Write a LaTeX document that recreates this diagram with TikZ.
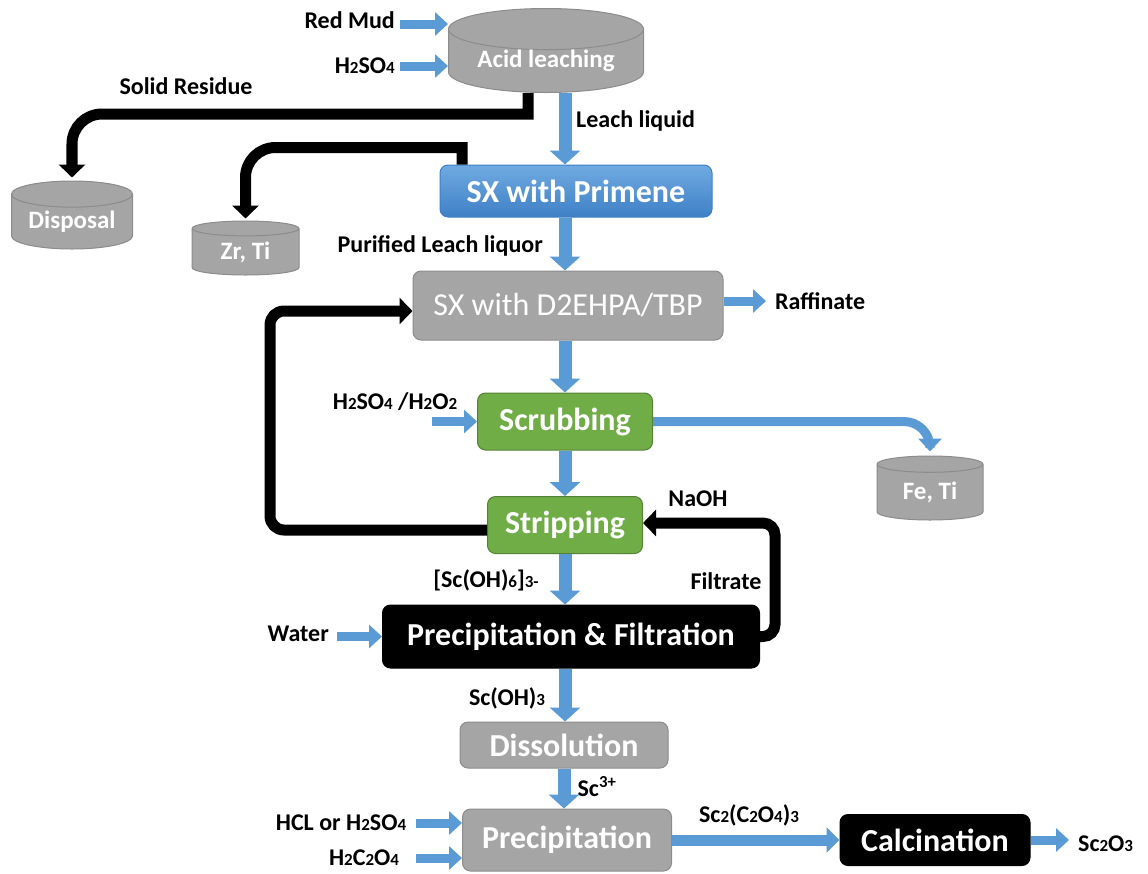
\documentclass[tikz,border=0pt]{standalone}
\usepackage{fontspec}
\setmainfont{Carlito}
\usetikzlibrary{arrows.meta, positioning, shapes.geometric}
\definecolor{flowBlue}{RGB}{91,155,213}
\definecolor{boxGray}{RGB}{165,165,165}
\definecolor{grayEdge}{RGB}{140,140,140}
\definecolor{leafGreen}{RGB}{112,173,71}
\definecolor{greenEdge}{RGB}{84,130,53}
\definecolor{primeTop}{RGB}{112,170,225}
\definecolor{primeBottom}{RGB}{62,128,198}
\newcommand{\sml}[1]{{\fontsize{17}{17}\selectfont #1}}

\begin{document}
\begin{tikzpicture}[x=1pt, y=-1pt,
  lbl/.style={font=\bfseries\fontsize{24}{28}\selectfont, text=black, inner sep=1pt},
  procbox/.style={rectangle, rounded corners=8pt, line width=1pt, text=white, inner sep=0pt, font=\bfseries\fontsize{32}{38}\selectfont},
  grayproc/.style={procbox, fill=boxGray, draw=grayEdge},
  greenproc/.style={procbox, fill=leafGreen, draw=greenEdge},
  blackproc/.style={procbox, fill=black, draw=black},
  blueproc/.style={procbox, top color=primeTop, bottom color=primeBottom, draw=primeBottom},
  tank/.style={cylinder, shape border rotate=90, aspect=0.3, anchor=shape center, fill=boxGray, draw=grayEdge, line width=1pt, text=white, inner sep=0pt, font=\bfseries\fontsize{25}{28}\selectfont},
  flow/.style={draw=flowBlue, line width=13pt, -{Triangle[length=14pt, width=30pt]}},
  feed/.style={draw=flowBlue, line width=9pt, -{Triangle[length=13pt, width=23pt]}},
  back/.style={draw=black, line width=11pt, -{Triangle[length=13pt, width=26pt]}}
]
\useasboundingbox (0,0) rectangle (1148,873);

% vessels
\node[tank, minimum width=195pt, minimum height=72pt] (leach) at (546,50.5) {Acid leaching};
\node[tank, minimum width=121pt, minimum height=68pt] (disposal) at (72,215) {Disposal};
\node[tank, minimum width=107pt, minimum height=54pt] (zrti) at (245.5,248) {Zr, Ti};
\node[tank, minimum width=106pt, minimum height=64pt] (feti) at (930,488) {Fe, Ti};

% process steps
\node[blueproc, minimum width=272pt, minimum height=52pt] (primene) at (576,191) {SX with Primene};
\node[grayproc, font=\fontsize{32}{38}\selectfont, minimum width=310pt, minimum height=69pt] (dehpa) at (568,305.5) {SX with D2EHPA/TBP};
\node[greenproc, minimum width=175pt, minimum height=57pt] (scrub) at (565,421.5) {Scrubbing};
\node[greenproc, minimum width=155pt, minimum height=57pt] (strip) at (565,525) {Stripping};
\node[blackproc, minimum width=377pt, minimum height=63pt] (precfilt) at (571,636.5) {Precipitation \& Filtration};
\node[grayproc, minimum width=208pt, minimum height=46pt] (dissol) at (564,745) {Dissolution};
\node[grayproc, minimum width=209pt, minimum height=62pt] (precip) at (567,840) {Precipitation};
\node[blackproc, minimum width=190pt, minimum height=51pt] (calc) at (935,840) {Calcination};

% stream labels
\node[lbl, anchor=east] (redmud) at (396,20) {Red Mud};
\node[lbl, anchor=east] (acid) at (396,66) {H\sml{2}SO\sml{4}};
\node[lbl] (solidres) at (186,86) {Solid Residue};
\node[lbl, anchor=west] (leachliq) at (575,121) {Leach liquid};
\node[lbl, anchor=east] (purified) at (544,246) {Purified Leach liquor};
\node[lbl, anchor=west] (raff) at (774,301) {Raffinate};
\node[lbl] (scrubacid) at (395,402) {H\sml{2}SO\sml{4} /H\sml{2}O\sml{2}};
\node[lbl] (naoh) at (698,499) {NaOH};
\node[lbl] (filtrate) at (726,581) {Filtrate};
\node[lbl] (scoh6) at (486,580) {[Sc(OH)\sml{6}]\sml{3-}};
\node[lbl, anchor=east] (water) at (330,634) {Water};
\node[lbl] (scoh3) at (507,698) {Sc(OH)\sml{3}};
\node[lbl] (scion) at (597,787) {Sc\textsuperscript{3+}};
\node[lbl] (hcl) at (341,823) {HCL or H\sml{2}SO\sml{4}};
\node[lbl] (oxalic) at (364,858) {H\sml{2}C\sml{2}O\sml{4}};
\node[lbl] (oxalate) at (749,815) {Sc\sml{2}(C\sml{2}O\sml{4})\sml{3}};
\node[lbl, anchor=west] (oxide) at (1077,844) {Sc\sml{2}O\sml{3}};

% main line
\draw[flow] (leach.south -| strip) -- (primene.north -| strip);
\draw[flow] (primene.south -| strip) -- (dehpa.north -| strip);
\draw[flow] (dehpa.south -| strip) -- (scrub.north -| strip);
\draw[flow] (scrub.south) -- (strip.north);
\draw[flow] (strip.south) -- (strip.south |- precfilt.north);
\draw[flow] (precfilt.south -| strip) -- (dissol.north -| strip);
\draw[flow] (dissol.south) -- (dissol.south |- precip.north);
\draw[flow, line width=11pt, -{Triangle[length=13pt, width=25pt]}] (precip.east) -- (calc.west);

% feeds and side streams
\draw[feed] ([xshift=4pt,yshift=-4pt]redmud.east) -- ([yshift=-4pt]redmud.east -| leach.west);
\draw[feed] ([xshift=4pt]acid.east) -- (acid.east -| leach.west);
\draw[feed, shorten >=8pt] (dehpa.east |- raff) -- (raff.west);
\draw[feed] ([xshift=-45pt]scrub.west) -- (scrub.west);
\draw[feed, rounded corners=26pt] (scrub.east) -| ([yshift=4pt]feti.north);
\draw[feed] ([xshift=-45pt]precfilt.west) -- (precfilt.west);
\draw[feed] ([xshift=-46pt,yshift=17pt]precip.west) -- ([yshift=17pt]precip.west);
\draw[feed] ([xshift=-46pt,yshift=-18pt]precip.west) -- ([yshift=-18pt]precip.west);
\draw[feed, shorten >=8pt] (calc.east) -- (calc.east -| oxide.west);

% residues and recycles
\draw[back] ([xshift=-18pt]leach.south) -- ++(0,21) -- ++(-100,0) [rounded corners=30pt] -| ([yshift=3pt]disposal.north);
\draw[back] ([xshift=-114pt]primene.north) -- ++(0,-17) -- ++(-100,0) [rounded corners=30pt] -| ([yshift=2pt]zrti.north);
\draw[back, rounded corners=14pt] ([yshift=-5pt]strip.west) -- ++(-217,0) |- ([yshift=-5.5pt]dehpa.west);
\draw[back, rounded corners=12pt] (precfilt.east) -- ++(15,0) |- ([yshift=2pt]strip.east);
\end{tikzpicture}
\end{document}
